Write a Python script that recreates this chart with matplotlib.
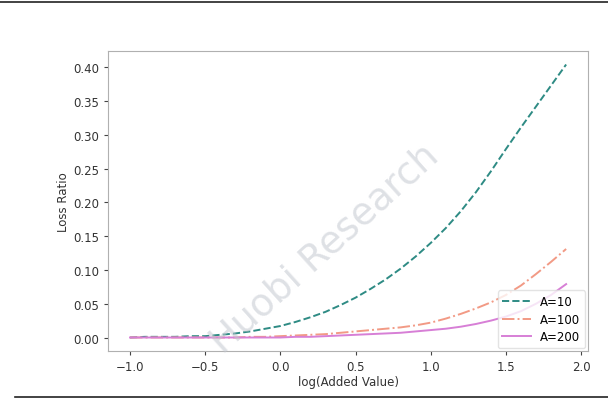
import matplotlib
matplotlib.use("Agg")
import matplotlib.pyplot as plt
from matplotlib.lines import Line2D

# values
log_added = [-1.0, -0.9, -0.8, -0.7, -0.6, -0.5, -0.4, -0.3, -0.2, -0.1,
             0.0, 0.1, 0.2, 0.3, 0.4, 0.5, 0.6, 0.7, 0.8, 0.9,
             1.0, 1.1, 1.2, 1.3, 1.4, 1.5, 1.6, 1.7, 1.8, 1.9]

loss_a10 = [0.000, 0.001, 0.001, 0.001, 0.002, 0.002, 0.004, 0.006, 0.009, 0.013,
            0.017, 0.023, 0.030, 0.038, 0.048, 0.059, 0.072, 0.086, 0.102, 0.120,
            0.140, 0.162, 0.187, 0.215, 0.246, 0.279, 0.311, 0.342, 0.373, 0.404]

loss_a100 = [0.000, 0.000, 0.000, 0.000, 0.000, 0.000, 0.000, 0.000, 0.001, 0.001,
             0.002, 0.003, 0.004, 0.005, 0.007, 0.009, 0.011, 0.013, 0.015, 0.018,
             0.022, 0.028, 0.035, 0.043, 0.052, 0.063, 0.077, 0.094, 0.112, 0.131]

loss_a200 = [0.000, 0.000, 0.000, 0.000, 0.000, 0.000, 0.000, 0.000, 0.000, 0.000,
             0.000, 0.001, 0.001, 0.002, 0.003, 0.004, 0.005, 0.006, 0.007, 0.009,
             0.011, 0.013, 0.016, 0.020, 0.025, 0.031, 0.039, 0.050, 0.063, 0.079]

labels = ["A=10", "A=100", "A=200"]

plt.rcParams["font.family"] = ["DejaVu Sans"]
plt.rcParams["font.size"] = 8.5

fig = plt.figure(figsize=(6.08, 4.02), dpi=100)
ax = fig.add_axes([0.178, 0.124, 0.789, 0.747])

ax.plot(log_added, loss_a10, "--", color="#2e8b84", lw=1.4, label=labels[0])
ax.plot(log_added, loss_a100, "-.", color="#f29a85", lw=1.4, label=labels[1])
ax.plot(log_added, loss_a200, "-", color="#d77fd6", lw=1.4, label=labels[2])

ax.set_xlabel("log(Added Value)", labelpad=1, color="#333333")
ax.set_ylabel("Loss Ratio", labelpad=2, color="#333333")
ax.set_yticks([0.0, 0.05, 0.10, 0.15, 0.20, 0.25, 0.30, 0.35, 0.40])
ax.yaxis.set_major_formatter(matplotlib.ticker.FormatStrFormatter("%.2f"))

for s in ax.spines.values():
    s.set_color("#b0b0b0")
ax.tick_params(colors="#444444", length=3, width=0.8)
ax.tick_params(axis="both", labelcolor="#333333")

leg = ax.legend(loc="lower right", borderaxespad=0.25, fontsize=8.5,
                handlelength=2.4, labelspacing=0.4)
leg.get_frame().set_edgecolor("#dddddd")

# faint watermark as in the source image
fig.text(0.535, 0.38, "Huobi Research", fontsize=27, rotation=42,
         color="#c4c8d0", alpha=0.55, ha="center", va="center", zorder=0)

# page rules above and below the chart
fig.add_artist(Line2D([0, 1], [0.993, 0.993], color="#222222", lw=1.2))
fig.add_artist(Line2D([0.025, 1], [0.01, 0.01], color="#222222", lw=1.2))

fig.savefig("out.png", dpi=100)
